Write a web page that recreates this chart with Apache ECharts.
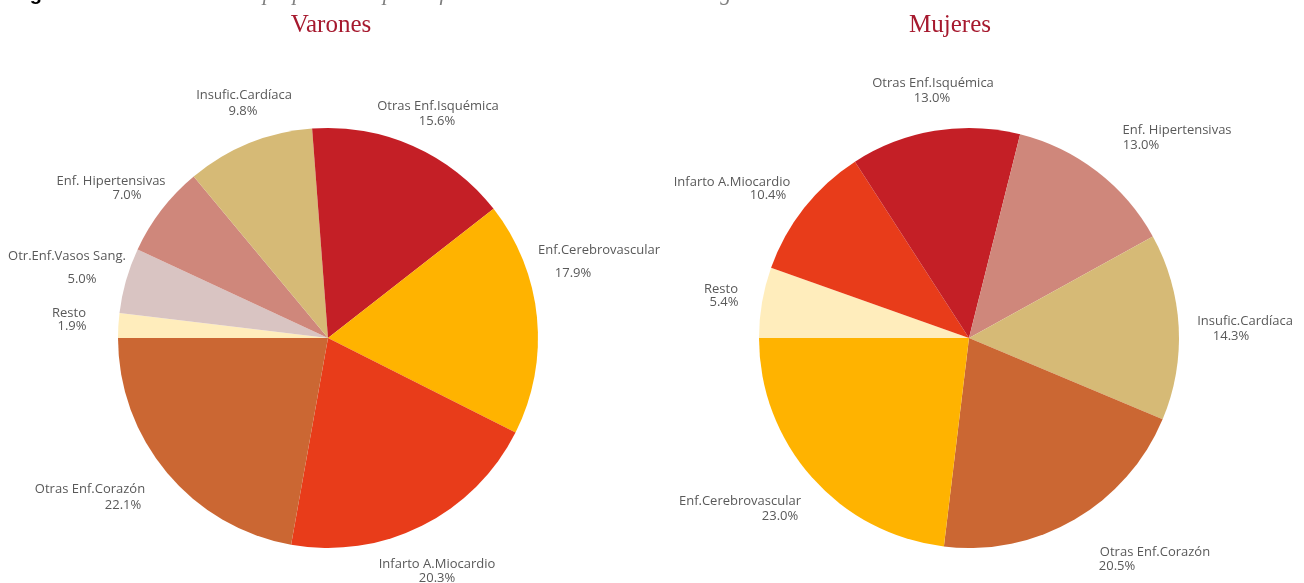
<!DOCTYPE html>
<html>
<head>
<meta charset="utf-8">
<script src="https://cdn.jsdelivr.net/npm/echarts@6/dist/echarts.min.js"></script>
<style>
html,body{margin:0;padding:0;background:#fff;}
#chart{width:1304px;height:583px;}
</style>
</head>
<body>
<div id="chart"></div>
<script>
// ---- Data ----
const categoriesVarones = ['Resto','Otr.Enf.Vasos Sang.','Enf. Hipertensivas','Insufic.Cardíaca','Otras Enf.Isquémica','Enf.Cerebrovascular','Infarto A.Miocardio','Otras Enf.Corazón'];
const valuesVarones = [1.9, 5.0, 7.0, 9.8, 15.6, 17.9, 20.3, 22.1];
const categoriesMujeres = ['Resto','Infarto A.Miocardio','Otras Enf.Isquémica','Enf. Hipertensivas','Insufic.Cardíaca','Otras Enf.Corazón','Enf.Cerebrovascular'];
const valuesMujeres = [5.4, 10.4, 13.0, 13.0, 14.3, 20.5, 23.0];
const titleVarones = 'Varones';
const titleMujeres = 'Mujeres';
const figureLabel = 'Figura 4.';
const figureCaption = 'Mortalidad proporcional por enfermedades cardiovasculares según sexo. Canarias';

// ---- Styles ----
const colorMap = {
  'Resto': '#FFEDBC',
  'Otr.Enf.Vasos Sang.': '#D9C4C2',
  'Enf. Hipertensivas': '#CF877B',
  'Insufic.Cardíaca': '#D6BA76',
  'Otras Enf.Isquémica': '#C41F26',
  'Enf.Cerebrovascular': '#FFB300',
  'Infarto A.Miocardio': '#E83C1A',
  'Otras Enf.Corazón': '#CB6733'
};
// label placement: [nameCenterX, nameCenterY, pctCenterX, pctCenterY]
const labelPlaceVarones = [
  [69, 313, 72, 326],
  [67, 256, 82, 279],
  [111, 181, 127, 195],
  [244, 95, 243, 111],
  [438, 106, 437, 121],
  [599, 250, 573, 273],
  [437, 564, 437, 578],
  [90, 489, 123, 505]
];
const labelPlaceMujeres = [
  [721, 289, 724, 302],
  [732, 182, 768, 195],
  [933, 83, 932, 98],
  [1177, 130, 1141, 145],
  [1245, 321, 1231, 336],
  [1155, 552, 1117, 566],
  [740, 501, 780, 516]
];
const LH = 15;
const FONT = '"Open Sans", "Noto Sans", sans-serif';
const FS = 13;
const LABEL_COLOR = '#595959';

function buildData(cats, vals, place) {
  return cats.map((c, i) => {
    const p = place[i];
    const shift = p[2] - p[0];
    const pad = shift >= 0 ? [0, 0, 0, 2 * shift] : [0, -2 * shift, 0, 0];
    const pLH = 2 * (p[3] - p[1]) - LH;
    return {
      name: c,
      value: vals[i],
      itemStyle: { color: colorMap[c] },
      label: {
        rich: {
          n: { fontSize: FS, fontFamily: FONT, color: LABEL_COLOR, lineHeight: LH, align: 'center' },
          p: { fontSize: FS, fontFamily: FONT, color: LABEL_COLOR, lineHeight: pLH, align: 'center', padding: pad }
        }
      }
    };
  });
}

function makeSeries(cats, vals, place, cx) {
  return {
    type: 'pie',
    center: [cx, 338],
    radius: 210,
    startAngle: 180,
    clockwise: true,
    avoidLabelOverlap: false,
    silent: true,
    itemStyle: { borderWidth: 0 },
    label: {
      show: true,
      position: 'outside',
      formatter: (pr) => '{n|' + pr.name + '}\n{p|' + pr.value.toFixed(1) + '%}'
    },
    labelLine: { show: false },
    labelLayout: (params) => {
      const p = place[params.dataIndex];
      return { x: p[0], y: p[1] - LH / 2, align: 'center', verticalAlign: 'top' };
    },
    data: buildData(cats, vals, place)
  };
}

const chart = echarts.init(document.getElementById('chart'), null, { renderer: 'canvas' });
chart.setOption({
  animation: false,
  backgroundColor: '#ffffff',
  title: [
    {
      text: figureLabel,
      left: 12, top: -16, padding: 0,
      textStyle: { fontFamily: '"Liberation Sans", sans-serif', fontWeight: 'bold', fontSize: 20, color: '#000' }
    },
    {
      text: figureCaption,
      left: 157, top: -17, padding: 0,
      textStyle: { fontFamily: '"Liberation Serif", serif', fontStyle: 'italic', fontWeight: 'normal', fontSize: 22, color: '#7f7f7f' }
    },
    {
      text: titleVarones, left: 331, top: 13, padding: 0, textAlign: 'center',
      textStyle: { fontFamily: '"Liberation Serif", serif', fontWeight: 'normal', fontSize: 25, color: '#A6192E' }
    },
    {
      text: titleMujeres, left: 950, top: 13, padding: 0, textAlign: 'center',
      textStyle: { fontFamily: '"Liberation Serif", serif', fontWeight: 'normal', fontSize: 25, color: '#A6192E' }
    }
  ],
  series: [
    makeSeries(categoriesVarones, valuesVarones, labelPlaceVarones, 328),
    makeSeries(categoriesMujeres, valuesMujeres, labelPlaceMujeres, 969)
  ]
});
</script>
</body>
</html>
